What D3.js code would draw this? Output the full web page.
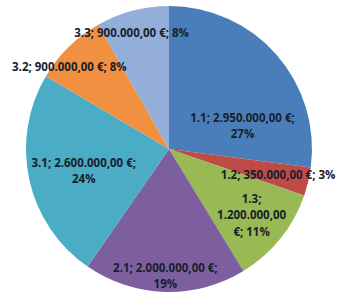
<!DOCTYPE html>
<html><head><meta charset="utf-8">
<script src="https://cdn.jsdelivr.net/npm/d3@7"></script>
<style>html,body{margin:0;padding:0;background:#fff;}svg{display:block;}</style>
</head><body>
<svg id="c" width="343" height="296"></svg>
<script>
const categories = ["1.1","1.2","1.3","2.1","3.1","3.2","3.3"];
const values = [2950000, 350000, 1200000, 2000000, 2600000, 900000, 900000];
const valueLabels = ["2.950.000,00 €","350.000,00 €","1.200.000,00 €","2.000.000,00 €","2.600.000,00 €","900.000,00 €","900.000,00 €"];
const percentLabels = ["27%","3%","11%","19%","24%","8%","8%"];
const colors = ["#4a7ebb","#be4b48","#98b954","#7d5fa0","#4aacc5","#f09040","#94aeda"];
// label text lines as shown in the chart
const labelLines = [
  ["1.1; 2.950.000,00 €;","27%"],
  ["1.2; 350.000,00 €; 3%"],
  ["1.3;","1.200.000,00","€; 11%"],
  ["2.1; 2.000.000,00 €;","19%"],
  ["3.1; 2.600.000,00 €;","24%"],
  ["3.2; 900.000,00 €; 8%"],
  ["3.3; 900.000,00 €; 8%"]
];
const labelRadius = [77,112,106,127,88,129,122];
const labelAngleShift = [24,0,0,0,-2,-6,-3];

const svg = d3.select("#c");
const cx = 169, cy = 149, R = 143;
const g = svg.append("g").attr("transform",`translate(${cx},${cy})`);
const pie = d3.pie().sort(null).value(d=>d)(values);
const arc = d3.arc().innerRadius(0).outerRadius(R);
g.selectAll("path.slice").data(pie).enter().append("path")
  .attr("d",arc).attr("fill",(d,i)=>colors[i]);

const fontSize = 11.5, lh = 16.5;
pie.forEach((d,i)=>{
  const a = (d.startAngle+d.endAngle)/2 + labelAngleShift[i]*Math.PI/180;
  const x = Math.sin(a)*labelRadius[i], y = -Math.cos(a)*labelRadius[i];
  const lines = labelLines[i];
  const t = g.append("text").attr("text-anchor","middle")
    .attr("font-family","'Open Sans', sans-serif").attr("font-weight","bold")
    .attr("font-size",fontSize).attr("fill","#18202a");
  lines.forEach((s,k)=>{
    t.append("tspan").attr("x",x).attr("y",y + (k-(lines.length-1)/2)*lh + fontSize*0.35).text(s);
  });
});
</script>
</body></html>
